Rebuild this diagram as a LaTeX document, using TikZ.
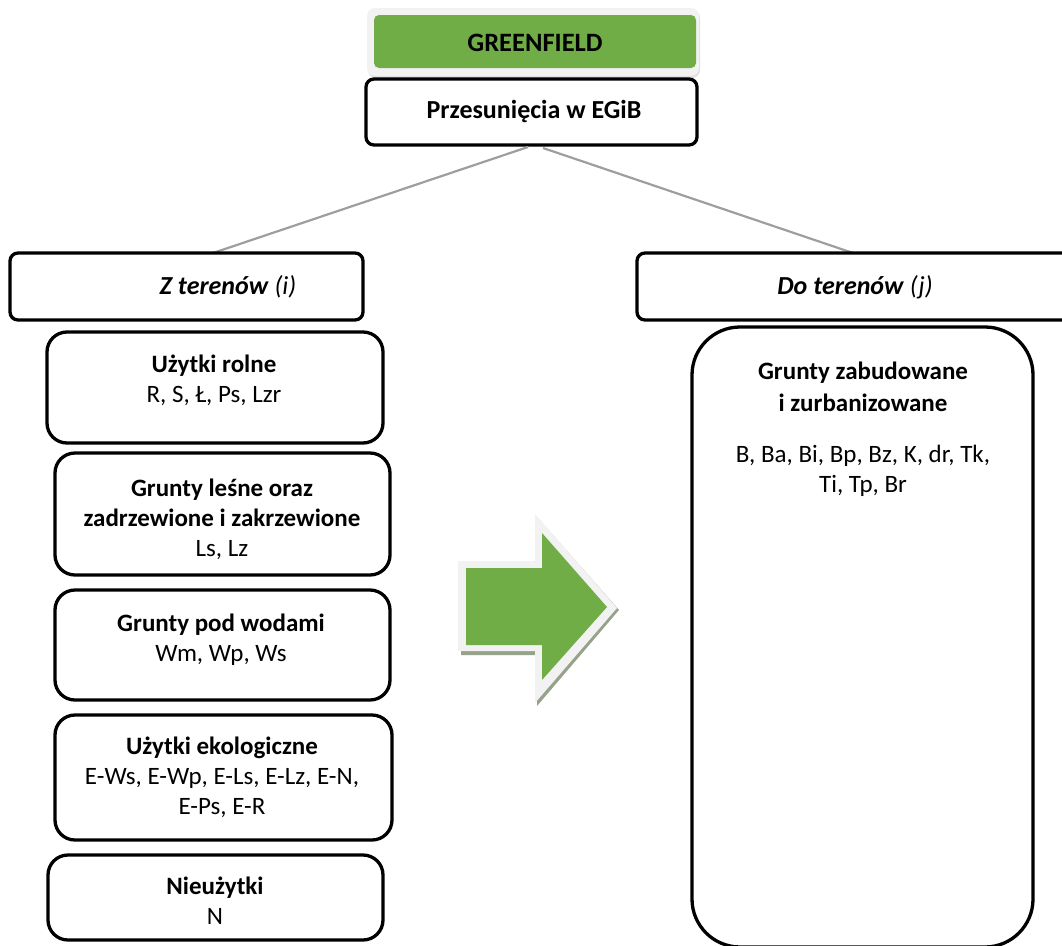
\documentclass[tikz,border=0pt]{standalone}
\usepackage{fontspec}
\setmainfont{Carlito}
\definecolor{gfgreen}{RGB}{112,173,71}
\definecolor{shadowgg}{RGB}{150,162,138}
\begin{document}
\begin{tikzpicture}[x=1pt,y=-1pt,
  box/.style={draw=black,line width=3.3pt,fill=white,inner sep=0pt},
  txt/.style={align=center,inner sep=0pt,font=\fontsize{25}{30}\selectfont},
  link/.style={draw=black!38,line width=2.2pt}]
\useasboundingbox (0,0) rectangle (1062,945);
% GREENFIELD
\node[fill=black!12,rounded corners=8pt,minimum width=332pt,minimum height=68pt,inner sep=0pt] (gfsh) at (534,44) {};
\node[fill=black!5,rounded corners=8pt,minimum width=332pt,minimum height=68pt,inner sep=0pt] (gfo) at (533,42) {};
\node[fill=gfgreen,rounded corners=5pt,minimum width=322pt,minimum height=53pt,inner sep=0pt] (gf) at (535,41.5) {};
\node[txt,font=\fontsize{26.5}{30}\selectfont\bfseries] (gft) at (535,43) {GREENFIELD};
% Przesuniecia
\node[box,rounded corners=8pt,minimum width=331pt,minimum height=66pt] (pr) at (531.5,112) {};
\node[txt,font=\fontsize{26}{30}\selectfont\bfseries] (prt) at (534,111) {Przesunięcia w EGiB};
% connectors
\coordinate (pl) at (528,147);
\coordinate (pr2) at (543,148);
\coordinate (zl) at (213,253);
\coordinate (dr) at (853,253);
\draw[link] (pl) -- (zl);
\draw[link] (pr2) -- (dr);
% Z terenow / Do terenow
\node[box,rounded corners=8pt,minimum width=353pt,minimum height=67pt] (zt) at (186.5,286.5) {};
\node[txt,font=\fontsize{26}{30}\selectfont] (ztt) at (228,287) {\textbf{\textit{Z terenów}} \textit{(i)}};
\node[box,rounded corners=8pt,minimum width=440pt,minimum height=67pt] (dt) at (857,286.5) {};
\node[txt,font=\fontsize{26}{30}\selectfont] (dtt) at (855,287) {\textbf{\textit{Do terenów}} \textit{(j)}};
% left boxes
\node[box,rounded corners=20pt,minimum width=336pt,minimum height=111pt] (b1) at (215,387.5) {};
\node[txt] (t1) at (214,380) {\textbf{Użytki rolne}\\R, S, Ł, Ps, Lzr};
\node[box,rounded corners=20pt,minimum width=335pt,minimum height=122pt] (b2) at (222.5,514) {};
\node[txt] (t2) at (222,519) {\textbf{Grunty leśne oraz}\\\textbf{zadrzewione i zakrzewione}\\Ls, Lz};
\node[box,rounded corners=20pt,minimum width=335pt,minimum height=110pt] (b3) at (222.5,645) {};
\node[txt] (t3) at (221,640) {\textbf{Grunty pod wodami}\\Wm, Wp, Ws};
\node[box,rounded corners=20pt,minimum width=337pt,minimum height=125pt] (b4) at (223.5,777.5) {};
\node[txt] (t4) at (222,777) {\textbf{Użytki ekologiczne}\\E-Ws, E-Wp, E-Ls, E-Lz, E-N,\\E-Ps, E-R};
\node[box,rounded corners=20pt,minimum width=335pt,minimum height=85pt] (b5) at (215.5,897.5) {};
\node[txt] (t5) at (215,901) {\textbf{Nieużytki}\\N};
% right big box
\node[box,rounded corners=48pt,minimum width=341pt,minimum height=620pt] (big) at (862.5,637) {};
\node[txt] (tb1) at (863,387) {\textbf{Grunty zabudowane}\\[2pt]\textbf{i zurbanizowane}};
\node[txt] (tb2) at (863,471) {B, Ba, Bi, Bp, Bz, K, dr, Tk,\\Ti, Tp, Br};
% arrow
\fill[shadowgg] (461,565) -- (537,565) -- (537,517) -- (619,610) -- (537,706) -- (537,655) -- (461,655) -- cycle;
\fill[black!5] (458,561) -- (535,561) -- (535,514) -- (617,608) -- (535,703) -- (535,651) -- (458,651) -- cycle;
\fill[gfgreen] (466,568) -- (542,568) -- (542,533) -- (607,607) -- (542,680) -- (542,645) -- (466,645) -- cycle;
\end{tikzpicture}
\end{document}
